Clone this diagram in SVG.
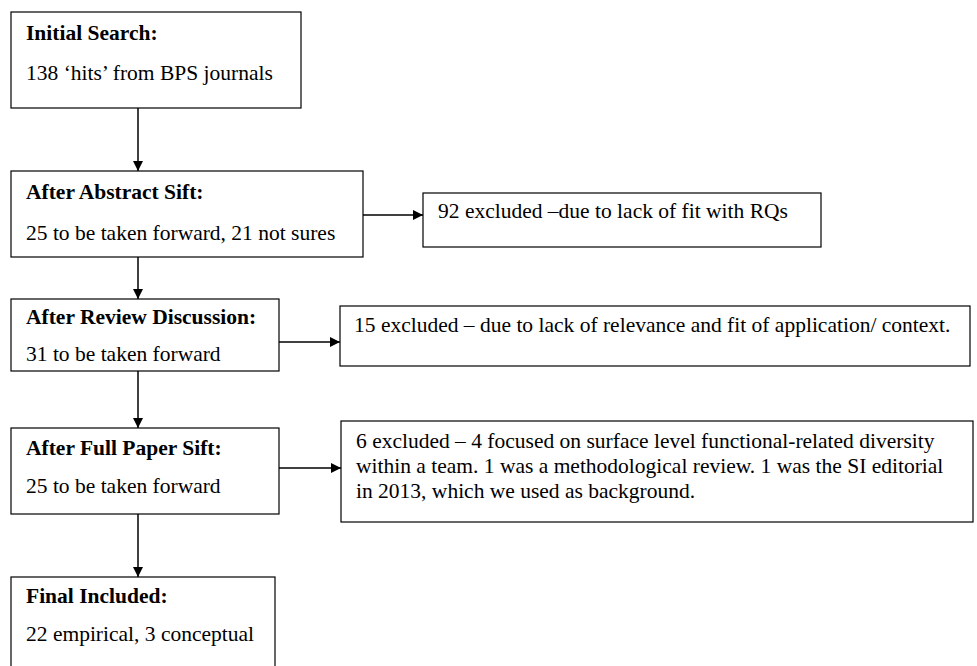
<svg xmlns="http://www.w3.org/2000/svg" width="977" height="666" viewBox="0 0 977 666">
<style>
.box{fill:#fff;stroke:#000;stroke-width:1.2}
.t{font-family:"Liberation Serif","Times New Roman",serif;font-size:21.5px;fill:#000}
.b{font-weight:bold}
.c{stroke:#000;stroke-width:1.5;fill:none}
</style>
<defs>
<marker id="ah" viewBox="0 0 10 10" refX="10" refY="5" markerWidth="10" markerHeight="10" markerUnits="userSpaceOnUse" orient="auto">
<path d="M0,0 L10,5 L0,10 z" fill="#000"/>
</marker>
</defs>
<rect width="977" height="666" fill="#fff"/>
<g id="connectors">
<line class="c" x1="138" y1="108" x2="138" y2="171" marker-end="url(#ah)"/>
<line class="c" x1="363" y1="215" x2="423" y2="215" marker-end="url(#ah)"/>
<line class="c" x1="138" y1="257" x2="138" y2="299" marker-end="url(#ah)"/>
<line class="c" x1="279" y1="342" x2="340" y2="342" marker-end="url(#ah)"/>
<line class="c" x1="138" y1="371" x2="138" y2="428" marker-end="url(#ah)"/>
<line class="c" x1="279" y1="468" x2="341" y2="468" marker-end="url(#ah)"/>
<line class="c" x1="138" y1="514" x2="138" y2="577" marker-end="url(#ah)"/>
</g>
<g id="initial">
<rect class="box" x="11" y="12" width="290" height="96"/>
<text class="t b" x="26" y="40">Initial Search:</text>
<text class="t" x="26" y="80">138 ‘hits’ from BPS journals</text>
</g>
<g id="abstract">
<rect class="box" x="11" y="171" width="352" height="86"/>
<text class="t b" x="26" y="199">After Abstract Sift:</text>
<text class="t" x="26" y="240">25 to be taken forward, 21 not sures</text>
</g>
<g id="excl92">
<rect class="box" x="423" y="193" width="398" height="54"/>
<text class="t" x="438" y="218">92 excluded –due to lack of fit with RQs</text>
</g>
<g id="review">
<rect class="box" x="11" y="299" width="268" height="72"/>
<text class="t b" x="26" y="324">After Review Discussion:</text>
<text class="t" x="26" y="361">31 to be taken forward</text>
</g>
<g id="excl15">
<rect class="box" x="340" y="306" width="630" height="60"/>
<text class="t" x="354" y="332">15 excluded – due to lack of relevance and fit of application/ context.</text>
</g>
<g id="fullpaper">
<rect class="box" x="11" y="428" width="268" height="86"/>
<text class="t b" x="26" y="455">After Full Paper Sift:</text>
<text class="t" x="26" y="493">25 to be taken forward</text>
</g>
<g id="excl6">
<rect class="box" x="341" y="421" width="632" height="101"/>
<text class="t" x="356" y="448">6 excluded – 4 focused on surface level functional-related diversity</text>
<text class="t" x="356" y="473">within a team. 1 was a methodological review. 1 was the SI editorial</text>
<text class="t" x="356" y="498">in 2013, which we used as background.</text>
</g>
<g id="final">
<rect class="box" x="11" y="577" width="264" height="100"/>
<text class="t b" x="26" y="603">Final Included:</text>
<text class="t" x="26" y="641">22 empirical, 3 conceptual</text>
</g>
</svg>
